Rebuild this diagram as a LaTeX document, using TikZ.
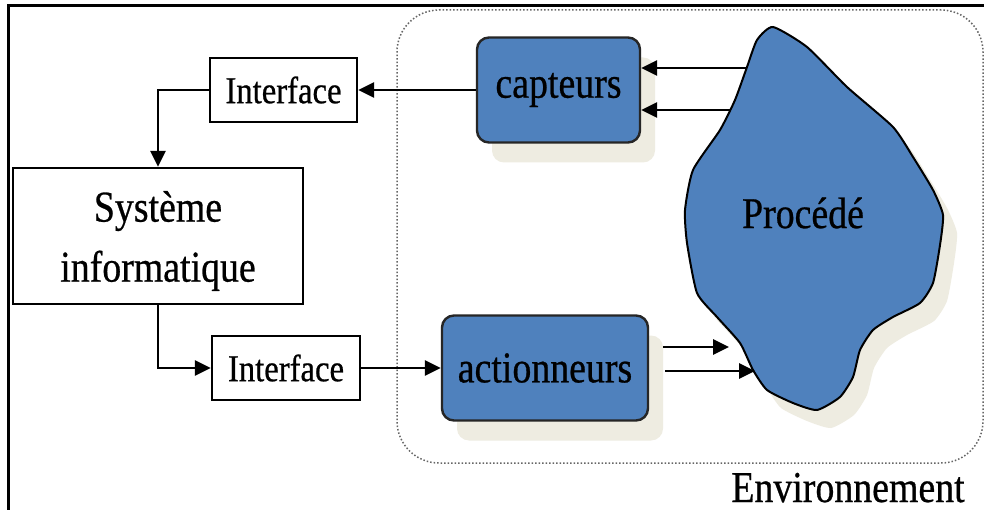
\documentclass[tikz,border=0pt]{standalone}
\usepackage{fontspec}
\setmainfont[FakeStretch=0.86,FakeBold=0.6]{Liberation Serif}
\usetikzlibrary{arrows.meta,shadows}
\definecolor{procblue}{HTML}{4F81BD}
\definecolor{shadowc}{HTML}{EEECE1}
\begin{document}
\begin{tikzpicture}[x=1pt,y=-1pt,
  plainbox/.style={draw=black,line width=2.4pt,fill=white,inner sep=0pt},
  bluebox/.style={draw=black!85,line width=2.4pt,fill=procblue,rounded corners=12pt,inner sep=0pt,
    general shadow={fill=shadowc,shadow xshift=15pt,shadow yshift=-20pt}},
  envbox/.style={draw=black!60,dotted,line width=1.5pt,rounded corners=42pt,inner sep=0pt},
  arr/.style={line width=2.6pt,-{Triangle[length=16pt,width=15pt]}},
  big/.style={font=\fontsize{44}{60}\selectfont},
  small/.style={font=\fontsize{38}{40}\selectfont}]
\useasboundingbox (0,0) rectangle (984,510);
\fill[white] (0,0) rectangle (984,510);

% outer frame (runs off the page on the right and at the bottom)
\draw[line width=3pt] (8,520) -- (8,6) -- (995,6);

% environment boundary
\node[envbox,minimum width=586pt,minimum height=453pt] (env) at (690,236.5) {};

% the process (irregular blob) with its shadow
\def\blobpts{(773,27) (807,47) (847,87) (893,127) (913,157) (933,190) (943,215)
  (940,245) (933,283) (920,303) (893,317) (873,330) (860,350) (853,377) (840,397)
  (817,410) (793,403) (767,390) (753,370) (740,343) (717,317) (697,293) (687,243)
  (685,210) (693,170) (720,130) (735,100) (747,67) (757,40)}
\fill[shadowc,shift={(14,18)}] plot[smooth cycle,tension=0.35] coordinates {\blobpts};
\draw[fill=procblue,line width=2pt] plot[smooth cycle,tension=0.35] coordinates {\blobpts};
\node[big] (proc) at (803,213) {Procédé};

% boxes
\node[plainbox,small,minimum width=147pt,minimum height=64pt] (ifTop) at (283.5,90) {Interface};
\node[plainbox,minimum width=290pt,minimum height=136pt] (sys) at (158,236) {};
\node[big,align=center,yshift=-5pt] (systxt) at (sys.center) {Système\\informatique};
\node[plainbox,small,minimum width=148pt,minimum height=64pt] (ifBot) at (286,368) {Interface};
\node[bluebox,big,minimum width=163pt,minimum height=105pt] (capt) at (558.5,90) {capteurs};
\node[bluebox,big,minimum width=206pt,minimum height=105pt] (act) at (545,368) {actionneurs};

% connectors
\draw[arr] (capt.west) -- (capt.west -| ifTop.east);
\draw[arr] (ifTop.west) -| (sys.north);
\draw[arr] (sys.south) |- (ifBot.west);
\draw[arr] (ifBot.east) -- (ifBot.east -| act.west);

% measurements from the process to the sensors
\coordinate (pa) at (746,68);
\coordinate (pb) at (730,110);
\draw[arr] (pa) -- (pa -| capt.east);
\draw[arr] (pb) -- (pb -| capt.east);

% commands from the actuators to the process
\coordinate (qa) at (663,347);
\coordinate (qb) at (665,371);
\coordinate (ta) at (729,347);
\coordinate (tb) at (755,371);
\draw[arr] (qa) -- (ta);
\draw[arr] (qb) -- (tb);

\node[big,anchor=base] (envlabel) at (848,502) {Environnement};
\end{tikzpicture}
\end{document}
